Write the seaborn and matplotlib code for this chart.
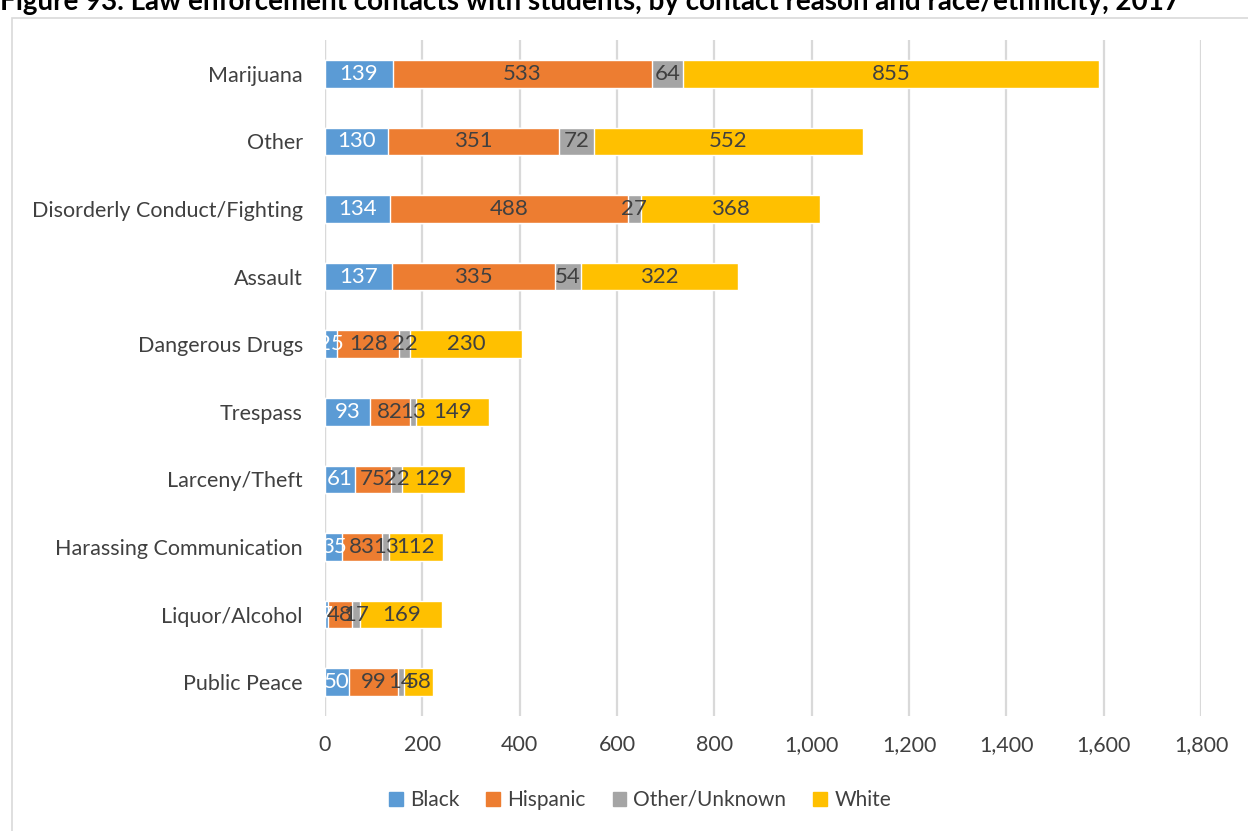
import matplotlib
matplotlib.use("Agg")
import matplotlib.pyplot as plt
import numpy as np
import pandas as pd
import seaborn as sns
from matplotlib.patches import Rectangle

reasons = ["Marijuana", "Other", "Disorderly Conduct/Fighting", "Assault",
           "Dangerous Drugs", "Trespass", "Larceny/Theft",
           "Harassing Communication", "Liquor/Alcohol", "Public Peace"]
black = [139, 130, 134, 137, 25, 93, 61, 35, 7, 50]
hispanic = [533, 351, 488, 335, 128, 82, 75, 83, 48, 99]
other_unknown = [64, 72, 27, 54, 22, 13, 22, 13, 17, 14]
white = [855, 552, 368, 322, 230, 149, 129, 112, 169, 58]

groups = ["Black", "Hispanic", "Other/Unknown", "White"]
colors = ["#5B9BD5", "#ED7D31", "#A5A5A5", "#FFC000"]
label_colors = ["white", "#404040", "#404040", "#404040"]

sns.set_style("white")
plt.rcParams['font.family'] = ['Lato', 'DejaVu Sans']

df = pd.DataFrame({"reason": reasons, "Black": black, "Hispanic": hispanic,
                   "Other/Unknown": other_unknown, "White": white})
cum = df[groups].cumsum(axis=1)

fig = plt.figure(figsize=(12.48, 8.31), dpi=100)
# outer chart border
fig.patches.append(Rectangle((12 / 1248, -0.01), 1.0, 1 - 18 / 831 + 0.01,
                             transform=fig.transFigure, fill=False,
                             edgecolor="#D9D9D9", linewidth=1.2))
ax = fig.add_axes([325 / 1248, 1 - 716 / 831, 876 / 1248, 676 / 831])

# draw cumulative bars from total down so earlier series sit on top
for g, c in reversed(list(zip(groups, colors))):
    sns.barplot(x=cum[g], y=df["reason"], orient="h", color=c, width=0.41,
                saturation=1, ax=ax, zorder=3)

for i, g in enumerate(groups):
    left = cum[g] - df[g]
    for j, v in enumerate(df[g]):
        ax.text(left[j] + v / 2, j, str(v), ha="center", va="center",
                fontsize=16, color=label_colors[i], zorder=5)

ax.set_xlim(0, 1800)
ax.set_ylim(9.5, -0.5)
ax.set_xticks(np.arange(0, 1801, 200))
ax.set_xticklabels([f"{t:,}" for t in range(0, 1801, 200)])
ax.grid(axis="x", color="#D9D9D9", linewidth=1.6, zorder=0)
ax.set_axisbelow(True)
for s in ax.spines.values():
    s.set_visible(False)
ax.axvline(0, color="#D9D9D9", linewidth=1.6, zorder=1)
ax.tick_params(axis="both", length=0, labelsize=15.5, labelcolor="#404040")
ax.tick_params(axis="x", pad=14)
ax.tick_params(axis="y", pad=16)
ax.set_xlabel("")
ax.set_ylabel("")

handles = [Rectangle((0, 0), 1, 1, color=c) for c in colors]
fig.legend(handles, groups, loc="center", bbox_to_anchor=(640 / 1248, 1 - 800 / 831),
           ncol=4, frameon=False, fontsize=15, handlelength=0.65, handleheight=0.65,
           handletextpad=0.35, columnspacing=1.3, labelcolor="#404040")

fig.text(0.0, 1 - 10 / 831, "Figure 93. Law enforcement contacts with students, by contact reason and race/ethnicity, 2017",
         ha="left", va="baseline", fontsize=20, fontweight="bold", color="black")

fig.savefig("out.png", dpi=100)
